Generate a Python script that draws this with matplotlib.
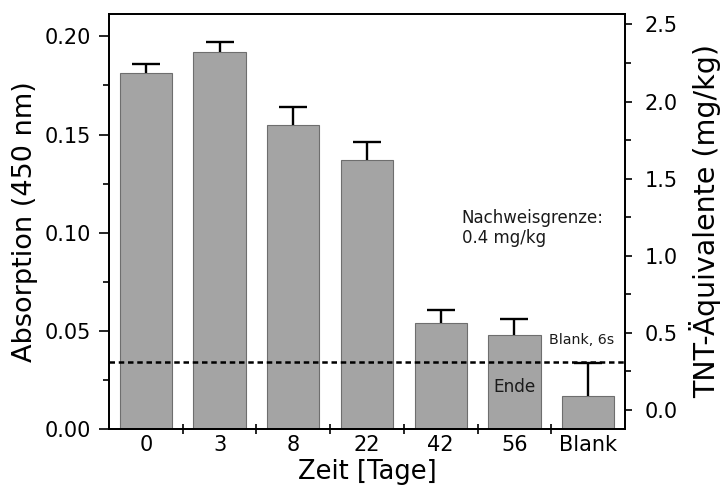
import numpy as np
import matplotlib
matplotlib.use("Agg")
import matplotlib.pyplot as plt
from matplotlib.ticker import MultipleLocator, FixedLocator, FormatStrFormatter

# data
kategorien = ["0", "3", "8", "22", "42", "56", "Blank"]
absorption = [0.1811, 0.1918, 0.1551, 0.1370, 0.0541, 0.0480, 0.0168]
fehler_oben = [0.0046, 0.0052, 0.0087, 0.0093, 0.0066, 0.0080, 0.0168]
grenzwert = 0.034

plt.rcParams['font.family'] = ['DejaVu Sans']

fig = plt.figure(figsize=(7.28, 4.98), dpi=100)
ax = fig.add_axes([0.1497, 0.1386, 0.7088, 0.8333])

x = np.arange(len(kategorien))
ax.bar(x, absorption, width=0.71, color='#a4a4a4', edgecolor='#6e6e6e', linewidth=0.8, zorder=2)
eb = ax.errorbar(x, absorption, yerr=[np.zeros(len(x)), fehler_oben], fmt='none',
                 ecolor='black', elinewidth=1.7, capsize=10, capthick=1.7, zorder=3)
# only the upper cap is shown
eb[1][0].set_visible(False)
ax.axhline(grenzwert, color='black', lw=1.8, linestyle=(0, (2.2, 1.5)), zorder=4)

ax.set_xlim(-0.5, 6.5)
ax.set_ylim(0, 0.2114)
ax.set_xticks(x)
ax.set_xticklabels(kategorien)
ax.xaxis.set_minor_locator(FixedLocator(x[:-1] + 0.5))
ax.tick_params(axis='x', which='major', length=0, pad=4, labelsize=15)
ax.tick_params(axis='x', which='minor', direction='inout', length=7, width=1.2)
ax.yaxis.set_major_locator(MultipleLocator(0.05))
ax.yaxis.set_minor_locator(MultipleLocator(0.025))
ax.yaxis.set_major_formatter(FormatStrFormatter('%.2f'))
ax.tick_params(axis='y', which='major', length=7, width=1.2, pad=6, labelsize=15)
ax.tick_params(axis='y', which='minor', length=4, width=1.2)
ax.set_xlabel("Zeit [Tage]", fontsize=18.5, labelpad=3)
ax.set_ylabel("Absorption (450 nm)", fontsize=19.5, labelpad=5)
for s in ax.spines.values():
    s.set_linewidth(1.3)

ax2 = ax.twinx()
ax2.set_ylim(-0.123, 2.568)
ax2.yaxis.set_major_locator(MultipleLocator(0.5))
ax2.yaxis.set_minor_locator(MultipleLocator(0.25))
ax2.yaxis.set_major_formatter(FormatStrFormatter('%.1f'))
ax2.tick_params(axis='y', which='major', length=5, width=1.2, pad=9, labelsize=15)
ax2.tick_params(axis='y', which='minor', length=4, width=1.2)
ax2.set_ylabel("TNT-Äquivalente (mg/kg)", fontsize=20.5, labelpad=8)
for s in ax2.spines.values():
    s.set_linewidth(1.3)

ax.text(4.285, 0.1024, "Nachweisgrenze:\n0.4 mg/kg", fontsize=12, va='center', ha='left',
        linespacing=1.15, color='#1a1a1a')
ax.text(5.47, 0.0453, "Blank, 6s", fontsize=10.2, va='center', ha='left', color='#1a1a1a')
ax.text(5.0, 0.0215, "Ende", fontsize=12.2, va='center', ha='center', color='#1a1a1a')

fig.savefig("out.png", dpi=100)
